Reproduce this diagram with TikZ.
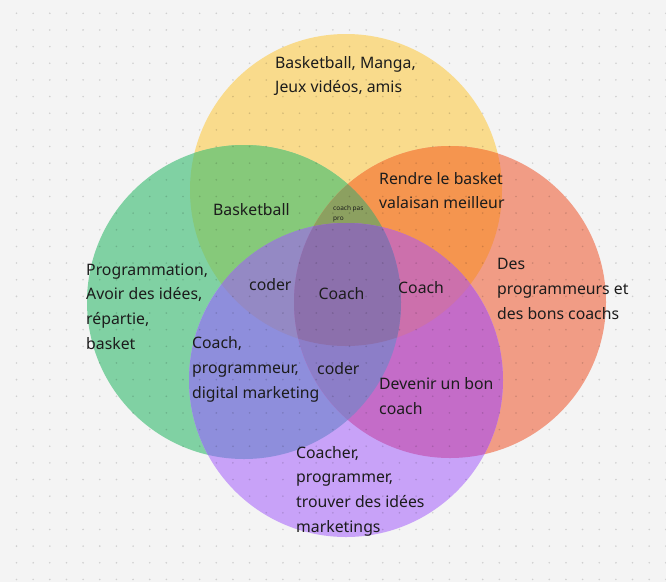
\documentclass[tikz,border=0pt]{standalone}
\usepackage{fontspec}
\setmainfont{Noto Sans}
\usepackage{xcolor}
\definecolor{paperbg}{RGB}{244,244,244}
\definecolor{ink}{RGB}{28,28,28}
\definecolor{vennY}{RGB}{249,219,140}
\definecolor{vennG}{RGB}{128,209,163}
\definecolor{vennO}{RGB}{241,156,133}
\definecolor{vennP}{RGB}{200,162,248}
\definecolor{vennYG}{RGB}{134,201,122}
\definecolor{vennYO}{RGB}{245,149,79}
\definecolor{vennGO}{RGB}{190,160,110}
\definecolor{vennYP}{RGB}{170,140,200}
\definecolor{vennGP}{RGB}{142,142,220}
\definecolor{vennOP}{RGB}{196,108,200}
\definecolor{vennYGO}{RGB}{140,160,96}
\definecolor{vennYGP}{RGB}{148,137,196}
\definecolor{vennYOP}{RGB}{204,112,172}
\definecolor{vennGOP}{RGB}{140,126,200}
\definecolor{vennAll}{RGB}{140,112,172}

\tikzset{
  lbl/.style={anchor=west,inner sep=0pt,align=left,text=ink,
    font=\fontsize{15.8}{24.7}\selectfont},
  tinylbl/.style={anchor=west,inner sep=0pt,align=left,text=ink,
    font=\fontsize{6.5}{10}\selectfont}
}

\begin{document}
\begin{tikzpicture}[x=1pt,y=-1pt]
    \fill[paperbg] (0,0) rectangle (666,582);
    \useasboundingbox (0,0) rectangle (666,582);
    \coordinate (cY) at (346,190);
    \coordinate (cG) at (244,302);
    \coordinate (cO) at (450,302);
    \coordinate (cP) at (346,380);
    % single circles
    \fill[vennY] (cY) circle[radius=156];
    \fill[vennG] (cG) circle[radius=157];
    \fill[vennO] (cO) circle[radius=156];
    \fill[vennP] (cP) circle[radius=157];
    % pairs
    \begin{scope}\clip (cY) circle[radius=156];
      \fill[vennYG] (cG) circle[radius=157];
      \fill[vennYO] (cO) circle[radius=156];
      \fill[vennYP] (cP) circle[radius=157];
    \end{scope}
    \begin{scope}\clip (cG) circle[radius=157];
      \fill[vennGO] (cO) circle[radius=156];
      \fill[vennGP] (cP) circle[radius=157];
    \end{scope}
    \begin{scope}\clip (cO) circle[radius=156];
      \fill[vennOP] (cP) circle[radius=157];
    \end{scope}
    % triples
    \begin{scope}\clip (cY) circle[radius=156];
      \begin{scope}\clip (cG) circle[radius=157];
        \fill[vennYGO] (cO) circle[radius=156];
        \fill[vennYGP] (cP) circle[radius=157];
      \end{scope}
      \begin{scope}\clip (cO) circle[radius=156];
        \fill[vennYOP] (cP) circle[radius=157];
      \end{scope}
    \end{scope}
    \begin{scope}\clip (cG) circle[radius=157];
      \clip (cO) circle[radius=156];
      \fill[vennGOP] (cP) circle[radius=157];
    \end{scope}
    % all four
    \begin{scope}\clip (cY) circle[radius=156];
      \clip (cG) circle[radius=157];
      \clip (cO) circle[radius=156];
      \fill[vennAll] (cP) circle[radius=157];
    \end{scope}
    % dotted grid
    \foreach \i in {0,...,39}
      \foreach \j in {0,...,34}
        \fill[black,opacity=0.15] (16.5+16.65*\i,13.3+16.65*\j) circle[radius=0.9];
    % labels
    \node[lbl] (hobbies) at (275,76) {Basketball, Manga,\\Jeux vidéos, amis};
    \node[lbl] (skills) at (86,306.5) {Programmation,\\Avoir des idées,\\répartie,\\basket};
    \node[lbl] (basket) at (213,210) {Basketball};
    \node[tinylbl] (pasPro) at (333,214) {coach pas\\pro};
    \node[lbl] (valais) at (379,190.5) {Rendre le basket\\valaisan meilleur};
    \node[lbl] (besoin) at (497,289) {Des\\programmeurs et\\des bons coachs};
    \node[lbl] (coderTop) at (249,285) {coder};
    \node[lbl,anchor=center] (coachMid) at (341.5,294) {Coach};
    \node[lbl] (coachRight) at (398,288) {Coach};
    \node[lbl] (digital) at (192,369.5) {Coach,\\programmeur,\\digital marketing};
    \node[lbl] (coderLow) at (317,369) {coder};
    \node[lbl] (devenir) at (379,396) {Devenir un bon\\coach};
    \node[lbl] (metier) at (296,491) {Coacher,\\programmer,\\trouver des idées\\marketings};
\end{tikzpicture}
\end{document}
